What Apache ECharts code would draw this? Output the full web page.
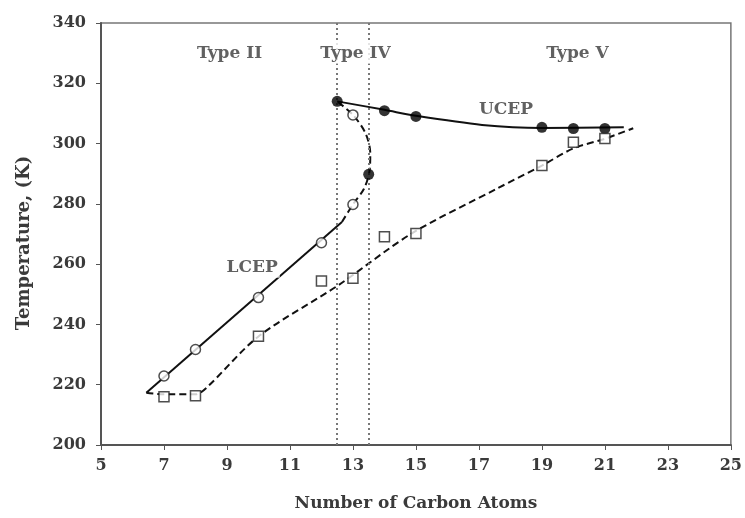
<!DOCTYPE html>
<html><head><meta charset="utf-8">
<script src="https://cdn.jsdelivr.net/npm/echarts@6/dist/echarts.min.js"></script>
<style>html,body{margin:0;padding:0;background:#fff}#c{width:745px;height:518px}</style>
</head><body><div id="c"></div>
<script>
// Axis ticks
const xTicks = [5, 7, 9, 11, 13, 15, 17, 19, 21, 23, 25];
const yTicks = [200, 220, 240, 260, 280, 300, 320, 340];

// Measured points
const lcepPoints = [[7, 222.9], [8, 231.7], [10, 248.9], [12, 267.1], [13, 279.8], [13, 309.5]];
const ucepPoints = [[12.5, 314.0], [13.5, 289.8], [14, 310.9], [15, 309.0], [19, 305.4], [20, 305.0], [21, 305.0]];
const squarePoints = [[7, 216.0], [8, 216.3], [10, 236.1], [12, 254.4], [13, 255.3], [14, 269.1], [15, 270.2], [19, 292.7], [20, 300.4], [21, 301.7]];

// Fitted curves
const lcepCurve = [[6.44, 217.3], [12.65, 274.0]];
const bridgeCurve = [[12.65, 274.0], [13.0, 279.8], [13.35, 285.0], [13.52, 290.5], [13.55, 296.8], [13.4, 303.4], [13.0, 309.5], [12.5, 314.0]];
const ucepCurve = [[12.5, 314.0], [14, 311.2], [15, 309.2], [17.1, 306.2], [19, 305.2], [21.6, 305.4]];
const squareCurve = [[6.44, 217.3], [7, 216.8], [8, 216.8], [8.35, 219.0], [10, 236.0], [12.55, 253.1], [14.87, 270.2], [17.6, 285.2], [19, 292.7], [20, 298.4], [21, 301.6], [21.9, 305.1]];

// Region boundaries and labels
const boundaries = [12.5, 13.5];
const annotations = [
  {name: 'Type II', value: [9.08, 330]},
  {name: 'Type IV', value: [13.08, 330]},
  {name: 'Type V', value: [20.13, 330]},
  {name: 'UCEP', value: [17.86, 311.2]},
  {name: 'LCEP', value: [9.8, 259]}
];

const FONT = 'DejaVu Serif';
const chart = echarts.init(document.getElementById('c'), null, {renderer: 'canvas'});
const lineBase = (data, type) => ({
  type: 'line', data: data, showSymbol: false, symbol: 'none', smooth: 0.3, smoothMonotone: 'none',
  lineStyle: {color: '#111', width: 2, type: type}, z: 3, silent: true, animation: false
});
chart.setOption({
  animation: false,
  grid: {left: 101, right: 11, top: 23, bottom: 73, show: true, borderColor: '#777', borderWidth: 1.5},
  xAxis: {
    type: 'value', min: 5, max: 25, interval: 2,
    name: 'Number of Carbon Atoms', nameLocation: 'middle', nameGap: 50,
    nameTextStyle: {fontFamily: FONT, fontSize: 17, fontWeight: 'bold', color: '#3a3a3a'},
    axisLine: {lineStyle: {color: '#555', width: 2}},
    axisTick: {show: true, inside: false, length: 5, lineStyle: {color: '#555'}},
    axisLabel: {fontFamily: FONT, fontSize: 16, fontWeight: 'bold', color: '#3a3a3a', margin: 13},
    splitLine: {show: false}
  },
  yAxis: {
    type: 'value', min: 200, max: 340, interval: 20,
    name: 'Temperature, (K)', nameLocation: 'middle', nameGap: 68,
    nameTextStyle: {fontFamily: FONT, fontSize: 18, fontWeight: 'bold', color: '#3a3a3a', padding: [0, 18, 0, 0]},
    axisLine: {show: true, lineStyle: {color: '#555', width: 2}},
    axisTick: {show: true, inside: false, length: 5, lineStyle: {color: '#555'}},
    axisLabel: {fontFamily: FONT, fontSize: 16, fontWeight: 'bold', color: '#3a3a3a', margin: 15},
    splitLine: {show: false}
  },
  series: [
    {
      type: 'line', data: [], silent: true,
      markLine: {
        symbol: 'none', silent: true, label: {show: false},
        lineStyle: {color: '#777', type: [2, 3], width: 2},
        data: boundaries.map(v => ({xAxis: v}))
      }
    },
    lineBase(lcepCurve, 'solid'),
    lineBase(bridgeCurve, [7, 4]),
    lineBase(ucepCurve, 'solid'),
    lineBase(squareCurve, [7, 4]),
    {type: 'scatter', data: lcepPoints, symbol: 'circle', symbolSize: 10,
      itemStyle: {color: '#fff', borderColor: '#222', borderWidth: 1.5}, z: 5},
    {type: 'scatter', data: ucepPoints, symbol: 'circle', symbolSize: 11,
      itemStyle: {color: '#000'}, z: 5},
    {type: 'scatter', data: squarePoints, symbol: 'rect', symbolSize: 10,
      itemStyle: {color: '#fff', borderColor: '#222', borderWidth: 1.5}, z: 5},
    {type: 'scatter', data: annotations, symbolSize: 0, z: 6, silent: true,
      label: {show: true, position: 'inside', formatter: p => p.name,
        fontFamily: FONT, fontSize: 17, fontWeight: 'bold', color: '#3a3a3a',
        backgroundColor: '#fff', padding: [2, 2]}}
  ]
});
</script></body></html>
